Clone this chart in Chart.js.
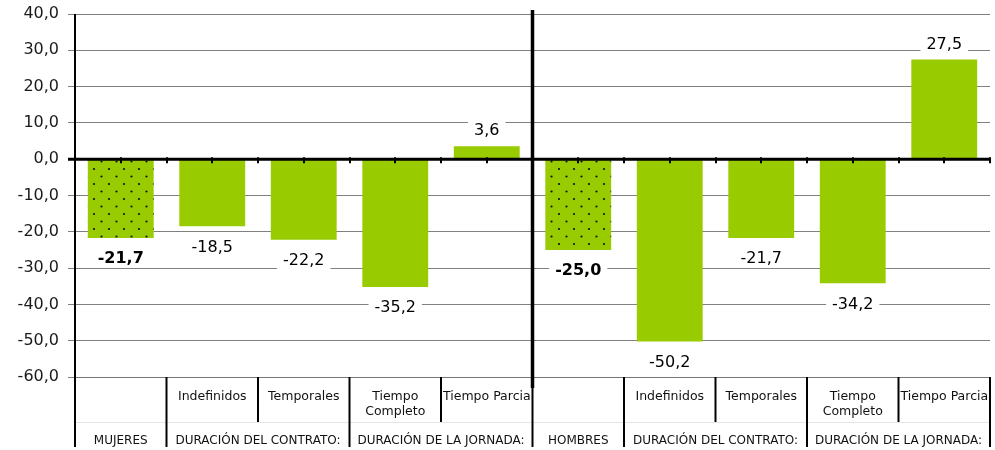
<!DOCTYPE html>
<html>
<head>
<meta charset="utf-8">
<script src="https://cdn.jsdelivr.net/npm/chart.js@4/dist/chart.umd.min.js"></script>
<style>
  html, body { margin: 0; padding: 0; background: #fff; }
  #wrap { width: 995px; height: 450px; }
</style>
</head>
<body>
<div id="wrap"><canvas id="chart"></canvas></div>
<script>
// Data
const categories = ['MUJERES', 'Indefinidos', 'Temporales', 'Tiempo Completo', 'Tiempo Parcial',
                    'HOMBRES', 'Indefinidos', 'Temporales', 'Tiempo Completo', 'Tiempo Parcial'];
const subLabels = ['', 'Indefinidos', 'Temporales', ['Tiempo', 'Completo'], 'Tiempo Parcial',
                   '', 'Indefinidos', 'Temporales', ['Tiempo', 'Completo'], 'Tiempo Parcial'];
const groupNames = ['MUJERES', 'DURACIÓN DEL CONTRATO:', 'DURACIÓN DE LA JORNADA:',
                    'HOMBRES', 'DURACIÓN DEL CONTRATO:', 'DURACIÓN DE LA JORNADA:'];
const groupSpans = [1, 2, 2, 1, 2, 2];
const values = [-21.7, -18.5, -22.2, -35.2, 3.6, -25.0, -50.2, -21.7, -34.2, 27.5];
const yTicks = [40, 30, 20, 10, 0, -10, -20, -30, -40, -50, -60];

const GREEN = '#99CC00';
const FONT = '"DejaVu Sans", Verdana, sans-serif';

function fmt(v) { return v.toFixed(1).replace('.', ','); }
function isTotal(i) { return subLabels[i] === ''; }

// dotted fill for the totals
function makeDots() {
  const c = document.createElement('canvas');
  c.width = 15; c.height = 15;
  const g = c.getContext('2d');
  g.fillStyle = GREEN;
  g.fillRect(0, 0, 15, 15);
  g.fillStyle = '#111';
  g.beginPath(); g.arc(4, 4, 1.1, 0, Math.PI * 2); g.fill();
  g.beginPath(); g.arc(11.5, 11.5, 1.1, 0, Math.PI * 2); g.fill();
  return g.createPattern(c, 'repeat');
}
const dots = makeDots();

const decor = {
  id: 'decor',
  afterDatasetsDraw(chart) {
    const ctx = chart.ctx;
    const area = chart.chartArea;
    const x = chart.scales.x;
    const y = chart.scales.y;
    const y0 = y.getPixelForValue(0);
    const step = x.getPixelForValue(1) - x.getPixelForValue(0);

    ctx.save();
    // value labels with white boxes
    const meta = chart.getDatasetMeta(0);
    meta.data.forEach((bar, i) => {
      const v = values[i];
      const bold = isTotal(i);
      ctx.font = (bold ? 'bold ' : '') + '16px ' + FONT;
      const txt = fmt(v);
      const w = ctx.measureText(txt).width;
      const cy = v < 0 ? bar.y + 20 : bar.y - 16;
      ctx.fillStyle = '#fff';
      ctx.fillRect(bar.x - w / 2 - 6, cy - 10, w + 12, 20);
      ctx.fillStyle = '#000';
      ctx.textAlign = 'center';
      ctx.textBaseline = 'middle';
      ctx.fillText(txt, bar.x, cy + 1);
    });

    // zero line
    ctx.strokeStyle = '#000';
    ctx.lineWidth = 3;
    ctx.beginPath();
    ctx.moveTo(area.left - 7, y0);
    ctx.lineTo(area.right, y0);
    ctx.stroke();
    // small ticks on zero line
    ctx.lineWidth = 2;
    for (let k = 0; k <= categories.length * 2; k++) {
      const px = Math.round(area.left + k * step / 2);
      ctx.beginPath();
      ctx.moveTo(px, y0 - 2);
      ctx.lineTo(px, y0 + 4);
      ctx.stroke();
    }

    // bottom border of plot
    ctx.strokeStyle = '#777';
    ctx.lineWidth = 1;
    ctx.beginPath();
    ctx.moveTo(area.left, area.bottom + 0.5);
    ctx.lineTo(area.right, area.bottom + 0.5);
    ctx.stroke();
    // faint row separator
    ctx.strokeStyle = '#e4e4e4';
    ctx.beginPath();
    ctx.moveTo(area.left, 422.5);
    ctx.lineTo(area.right, 422.5);
    ctx.stroke();

    // y axis line
    ctx.strokeStyle = '#000';
    ctx.lineWidth = 2;
    ctx.beginPath();
    ctx.moveTo(area.left, area.top);
    ctx.lineTo(area.left, 447);
    ctx.stroke();

    // category dividers below the plot
    const groupStart = new Set();
    let acc = 0;
    groupSpans.forEach(s => { groupStart.add(acc); acc += s; });
    for (let i = 1; i <= categories.length; i++) {
      const bx = i === categories.length ? area.right : area.left + i * step;
      const full = groupStart.has(i) || i === categories.length;
      ctx.lineWidth = 2;
      ctx.beginPath();
      ctx.moveTo(bx, area.bottom);
      ctx.lineTo(bx, full ? 447 : 422);
      ctx.stroke();
    }
    // thick separator between women and men
    const mid = area.left + 5 * step;
    ctx.lineWidth = 3.5;
    ctx.beginPath();
    ctx.moveTo(mid, area.top - 4);
    ctx.lineTo(mid, 388);
    ctx.stroke();

    // sub category labels
    ctx.fillStyle = '#111';
    ctx.font = '12.5px ' + FONT;
    ctx.textBaseline = 'middle';
    subLabels.forEach((lab, i) => {
      if (!lab) return;
      const cx = x.getPixelForValue(i);
      const l = area.left + i * step;
      const lines = Array.isArray(lab) ? lab : [lab];
      ctx.save();
      ctx.beginPath();
      ctx.rect(l + 1, area.bottom + 1, step - 2, 45);
      ctx.clip();
      lines.forEach((t, j) => {
        const w = ctx.measureText(t).width;
        if (w > step - 4) {
          ctx.textAlign = 'left';
          ctx.fillText(t, l + 2, 397 + j * 15);
        } else {
          ctx.textAlign = 'center';
          ctx.fillText(t, cx, 397 + j * 15);
        }
      });
      ctx.restore();
    });

    // group labels
    ctx.font = '12px ' + FONT;
    ctx.textAlign = 'center';
    let start = 0;
    groupNames.forEach((g, k) => {
      const l = area.left + start * step;
      const r = area.left + (start + groupSpans[k]) * step;
      ctx.fillText(g, (l + r) / 2, 441);
      start += groupSpans[k];
    });
    ctx.restore();
  }
};

new Chart(document.getElementById('chart'), {
  type: 'bar',
  data: {
    labels: categories,
    datasets: [{
      data: values,
      backgroundColor: values.map((v, i) => isTotal(i) ? dots : GREEN),
      borderWidth: 0,
      categoryPercentage: 1,
      barPercentage: 0.72
    }]
  },
  options: {
    responsive: true,
    maintainAspectRatio: false,
    animation: false,
    layout: { padding: { top: 14, right: 5, bottom: 73, left: 0 } },
    plugins: { legend: { display: false }, tooltip: { enabled: false } },
    scales: {
      x: { display: false },
      y: {
        min: -60,
        max: 40,
        afterBuildTicks: (s) => { s.ticks = yTicks.map(v => ({ value: v })); },
        afterFit: (s) => { s.width = 75; s.paddingTop = 0; s.paddingBottom = 0; },
        border: { display: false },
        grid: {
          color: '#808080',
          lineWidth: (c) => (c.tick && c.tick.value === 0) ? 0 : 1,
          tickLength: 7
        },
        ticks: {
          padding: 9,
          color: '#1a1a1a',
          font: { family: FONT, size: 16 },
          callback: (v) => fmt(v)
        }
      }
    }
  },
  plugins: [decor]
});
</script>
</body>
</html>
